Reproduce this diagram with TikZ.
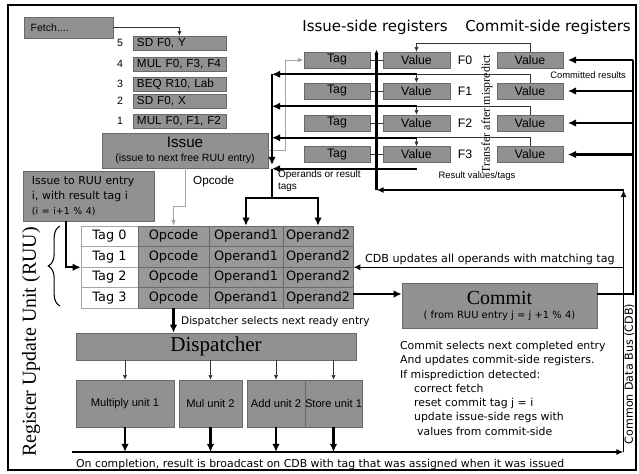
\documentclass[tikz,border=0pt]{standalone}
\usepackage{fontspec}
\setmainfont{Liberation Sans}
\newfontfamily\lucfont{DejaVu Sans}
\newfontfamily\serfont{Liberation Serif}
\usetikzlibrary{arrows.meta,calc,decorations.pathreplacing}
\newcommand{\fsz}[2]{\fontsize{#1}{#2}\selectfont}
\definecolor{boxgray}{RGB}{145,145,145}
\definecolor{edgegray}{RGB}{105,105,105}
\definecolor{linegray}{RGB}{165,165,165}
\definecolor{cellgray}{RGB}{152,152,152}
\begin{document}
\begin{tikzpicture}[x=0.03cm,y=-0.03cm,
  bx/.style 2 args={draw=edgegray,fill=boxgray,minimum width=#1*0.3mm,minimum height=#2*0.3mm,inner sep=0pt},
  cell/.style={draw=edgegray,fill=cellgray,minimum height=20.5*0.3mm,inner sep=0pt,font=\lucfont\fsz{11}{13}},
  tagcell/.style={cell,fill=white,draw=linegray},
  bigline/.style={line width=2pt},
  bigarr/.style={line width=2pt,-{Latex[length=7pt,width=6.5pt]}},
  midarr/.style={line width=1.2pt,-{Latex[length=6pt,width=5pt]}},
  thinarr/.style={draw=black!80,line width=0.5pt,-{Latex[length=4pt,width=3.5pt]}},
  grayarr/.style={draw=linegray,line width=0.8pt,-{Latex[length=5pt,width=4pt]}}]
\useasboundingbox (0,0) rectangle (639,474);
\draw[line width=1.5pt] (8,5) rectangle (636,470);

% fetch and instruction queue
\node[bx={89}{21},inner xsep=2mm,text width=22.7mm,align=left,font=\fsz{9}{11}] (fetch) at (68.5,27.5) {Fetch....};
\foreach \n/\y/\t in {5/43/{SD F0, Y},4/64/{MUL F0, F3, F4},3/84/{BEQ R10, Lab},2/101/{SD F0, X},1/121/{MUL F0, F1, F2}} {
  \node[bx={93}{14},inner xsep=1.2mm,text width=25.5mm,align=left,font=\fsz{10}{12}] (q\n) at (179.5,\y) {\t};
  \node[font=\fsz{9}{11}] (n\n) at (120,\y) {\n};
}
\draw[thinarr] (fetch.east) -| (q5.north);

\node[bx={166}{35},align=center] (issue) at (185,150.5) {{\fsz{13}{15}Issue}\\{\fsz{9}{11}(issue to next free RUU entry)}};
\node[bx={131}{50},inner xsep=2.7mm,text width=33.9mm,align=left,font=\lucfont\fsz{9.3}{12.8}] (ruuin) at (88.5,196) {Issue to RUU entry\\i, with result tag i\\{\fsz{8}{12.8}(i = i+1 \% 4)}};

% RUU table
\foreach \r in {0,...,3} {
  \node[tagcell,minimum width=57*0.3mm] (tag\r) at (109.5,{236.25+20.5*\r}) {Tag \r};
  \node[cell,minimum width=71*0.3mm] (opc\r) at (173.5,{236.25+20.5*\r}) {Opcode};
  \node[cell,minimum width=74*0.3mm] (opa\r) at (246,{236.25+20.5*\r}) {Operand1};
  \node[cell,minimum width=70*0.3mm] (opb\r) at (318,{236.25+20.5*\r}) {Operand2};
}
\draw[line width=0.9pt,decorate,decoration={brace,amplitude=10pt}] (60,306) -- (60,226);
\node[rotate=90,font=\serfont\fsz{17}{20}] (ruulbl) at (31,342) {Register Update Unit (RUU)};
\draw[bigarr] ($(ruuin.south west)+(43,0)$) |- (tag1.south west);
\draw[grayarr] (issue.south) -- ++(0,38) -| (opc0.north);
\node[anchor=west,font=\fsz{10}{12}] (opclbl) at (189,181) {Opcode};

% registers
\node[font=\lucfont\fsz{12.8}{15}] (ihead) at (375,27) {Issue-side registers};
\node[font=\lucfont\fsz{12.8}{15}] (chead) at (548,27) {Commit-side registers};
\foreach \i/\y in {0/60,1/91,2/123,3/154.5} {
  \node[bx={66}{16},font=\fsz{10.5}{12}] (rtag\i) at (337,\y) {Tag};
  \node[bx={67}{16},font=\fsz{10.5}{12}] (ival\i) at (416.5,\y) {Value};
  \node[font=\fsz{10.5}{12}] (fl\i) at (465,\y) {F\i};
  \node[bx={66}{16},font=\fsz{10.5}{12}] (cval\i) at (530,\y) {Value};
  \draw[thinarr] (cval\i.north) -- ++(0,-8.5) -| (ival\i.north);
  \draw[black!80,line width=0.5pt] (rtag\i.east) -- (ival\i.west);
}
\node[rotate=90,font=\serfont\fsz{10.2}{12}] (xfer) at (487,114) {Transfer after mispredict};
\draw[grayarr] (issue.east) -- ++(17,0) |- (rtag0.west);

% operands to RUU
\foreach \i in {1,2,3} {
  \coordinate (rd\i) at ($(ival\i.north)+(0,-8.5)$);
}
\coordinate (rd4) at ($(ival3.south)+(0,6)$);
\coordinate (opbus) at (272,168.5);
\coordinate (opsplit) at (272,198);
\foreach \i in {1,...,4} \draw[bigarr] (rd\i) -- (rd\i -| opbus);
\draw[bigarr,shorten >=3pt] (rd1 -| opbus) -- (opbus);
\draw[bigline] (opbus) -- (opsplit);
\draw[bigarr] (opsplit) -| (opa0.north);
\draw[bigarr] (opsplit) -| (opb0.north);
\node[anchor=north west,align=left,font=\fsz{8.5}{10}] (oplbl) at (274,166) {Operands or result\\tags};

% result bus
\coordinate (rb) at (376.5,190);
\coordinate (rv) at (623.5,190);
\coordinate (busl) at (72,452);
\coordinate (busr) at (623.5,452);
\draw[bigline,-{Latex[length=4pt,width=4pt]}] (rb) -- ($(rb |- rtag0.north)+(0,-2)$);
\draw[midarr] (rv) -- (rb);
\node[font=\fsz{8}{10}] (rvlbl) at (477,176) {Result values/tags};
\draw[midarr] (busl) -- (busr);
\draw[line width=1pt,-{Latex[length=6pt,width=5pt]}] (busr) -- (rv);
\draw[midarr] (opb1.south east -| rv) -- (opb1.south east);
\node[anchor=base west,font=\lucfont\fsz{9.5}{11}] (cdblbl) at (361,262) {CDB updates all operands with matching tag};
\node[rotate=90,font=\lucfont\fsz{9.5}{11}] (cdbname) at (629.5,374) {Common Data Bus (CDB)};

% commit
\node[bx={195}{45},align=center] (commit) at (499.5,305.5) {{\serfont\fsz{17}{18}Commit}\\{\lucfont\fsz{8.5}{11}( from RUU entry j = j +1 \% 4)}};
\coordinate (cdbx) at (633,294);
\draw[bigarr] (opb3.east |- cdbx) -- (commit.west |- cdbx);
\draw[bigline] (commit.east |- cdbx) -- (cdbx) -- (cdbx |- cval0.east);
\foreach \i in {0,...,3} \draw[bigarr,shorten >=4pt] (cval\i.east -| cdbx) -- (cval\i.east);
\node[anchor=east,font=\fsz{8}{10}] (crlbl) at (630,75) {Committed results};
\node[anchor=north west,align=left,font=\lucfont\fsz{9.3}{12.2}] (cnote) at (396,337) {Commit selects next completed entry\\And updates commit-side registers.\\If misprediction detected:\\\hspace*{4.2mm}correct fetch\\\hspace*{4.2mm}reset commit tag j = i\\\hspace*{4.2mm}update issue-side regs with\\\hspace*{5.1mm}values from commit-side};

% dispatch and units
\node[bx={280}{27},font=\serfont\fsz{18}{20}] (disp) at (216,346.5) {Dispatcher};
\draw[bigarr] (opc3.south) -- (opc3.south |- disp.north);
\node[anchor=west,font=\lucfont\fsz{9}{11}] (dlbl) at (177,322) {Dispatcher selects next ready entry};
\foreach \u/\x/\w/\t in {mu1/125/98/Multiply unit 1,mu2/210.5/63/Mul unit 2,au2/276/58/Add unit 2,su1/333.5/53/Store unit 1} {
  \node[bx={\w}{47},font=\fsz{9.5}{11}] (\u) at (\x,403.5) {\t};
  \draw[thinarr] (\u.north |- disp.south) -- (\u.north);
  \draw[bigarr] (\u.south) -- (\u.south |- busl);
}
\node[anchor=base west,font=\lucfont\fsz{9.3}{11}] (blbl) at (72,467) {On completion, result is broadcast on CDB with tag that was assigned when it was issued};
\end{tikzpicture}
\end{document}
